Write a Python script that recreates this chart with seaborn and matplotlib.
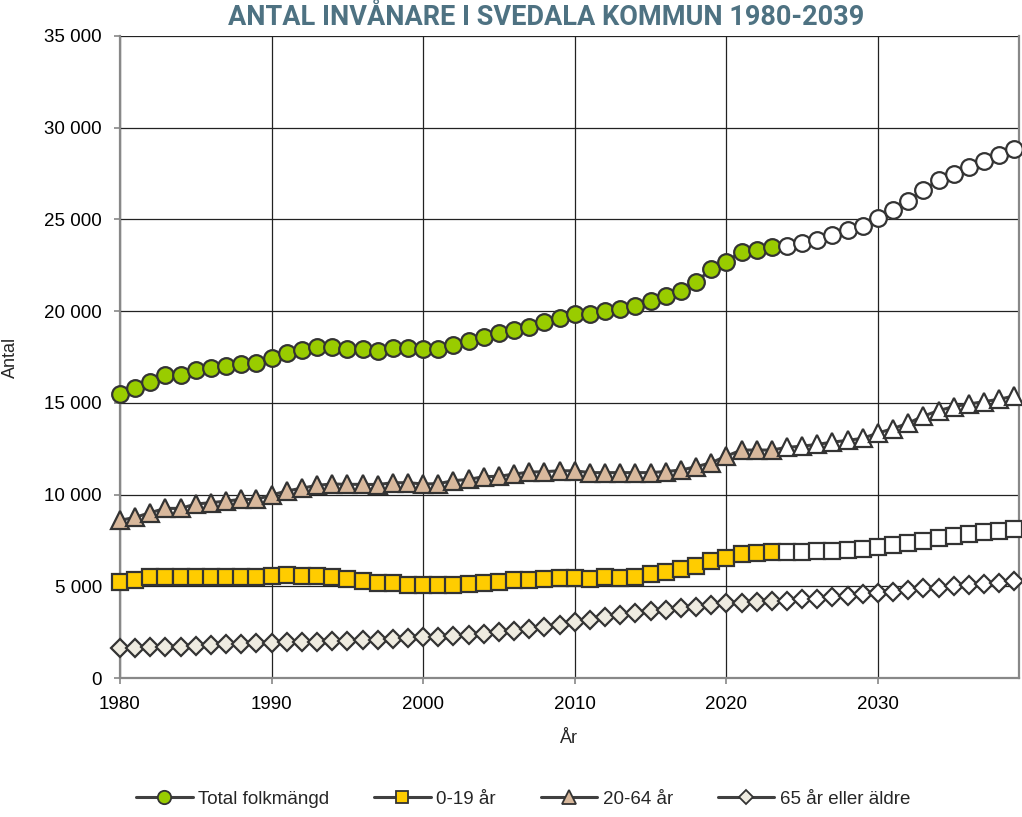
import numpy as np
import pandas as pd
import matplotlib
matplotlib.use('Agg')
import matplotlib.pyplot as plt
import seaborn as sns
from matplotlib.lines import Line2D
from matplotlib.ticker import FuncFormatter

# --- data ---
years = list(range(1980, 2040))
last_actual = 2023

total = [15500, 15800, 16150, 16500, 16500, 16800, 16900, 17030, 17120, 17160,
         17430, 17700, 17880, 18030, 18070, 17930, 17930, 17850, 17980, 17980,
         17930, 17950, 18160, 18350, 18600, 18800, 19000, 19150, 19400, 19620,
         19870, 19820, 20000, 20100, 20300, 20530, 20830, 21100, 21600, 22280,
         22700, 23250, 23340, 23500, 23550, 23700, 23880, 24150, 24400, 24650,
         25070, 25520, 26030, 26600, 27150, 27500, 27850, 28200, 28500, 28830]

age_0_19 = [5250, 5340, 5490, 5520, 5490, 5490, 5490, 5490, 5490, 5490,
            5560, 5620, 5560, 5560, 5490, 5380, 5300, 5200, 5200, 5090,
            5050, 5090, 5090, 5140, 5160, 5220, 5330, 5360, 5380, 5430,
            5460, 5380, 5520, 5460, 5490, 5650, 5800, 5940, 6120, 6400,
            6560, 6740, 6830, 6870, 6870, 6870, 6920, 6940, 6980, 7010,
            7120, 7250, 7340, 7490, 7630, 7740, 7850, 7960, 8030, 8140]

age_20_64 = [8600, 8760, 9020, 9250, 9250, 9490, 9560, 9650, 9740, 9740,
             9980, 10200, 10350, 10510, 10580, 10560, 10560, 10550, 10650, 10650,
             10580, 10600, 10760, 10830, 10980, 11000, 11120, 11230, 11250, 11300,
             11300, 11200, 11200, 11200, 11200, 11200, 11260, 11340, 11520, 11740,
             12100, 12430, 12430, 12430, 12580, 12640, 12740, 12860, 12960, 13070,
             13360, 13600, 13900, 14280, 14580, 14800, 14940, 15070, 15200, 15380]

age_65 = [1620, 1620, 1670, 1670, 1710, 1740, 1800, 1840, 1850, 1890,
          1930, 1950, 1980, 1980, 2000, 2000, 2070, 2070, 2110, 2200,
          2250, 2230, 2290, 2340, 2430, 2520, 2580, 2660, 2760, 2890,
          3070, 3160, 3340, 3430, 3560, 3670, 3710, 3800, 3890, 3980,
          4070, 4110, 4160, 4200, 4210, 4290, 4320, 4400, 4470, 4580,
          4650, 4710, 4800, 4890, 4920, 5020, 5070, 5130, 5200, 5300]

series_names = ['Total folkmängd', '0-19 år', '20-64 år', '65 år eller äldre']
series_values = [total, age_0_19, age_20_64, age_65]
markers = ['o', 's', '^', 'D']
marker_sizes = [12, 11, 12.5, 9]
fills = ['#99CC00', '#FFCC00', '#D8B89C', '#EEEBE0']

df = pd.DataFrame({'År': years})
for name, vals in zip(series_names, series_values):
    df[name] = vals
df_long = df.melt(id_vars='År', var_name='serie', value_name='Antal')

sns.set_style('white')
plt.rcParams['font.family'] = ['Liberation Sans', 'DejaVu Sans']

fig = plt.figure(figsize=(10.22, 8.17), dpi=100)
ax = fig.add_axes([0.1174, 0.170, 0.8796, 0.786])

line_col = '#404040'
edge_col = '#333333'

for name, m, ms, fc in zip(series_names, markers, marker_sizes, fills):
    d = df_long[df_long['serie'] == name]
    sns.lineplot(data=d, x='År', y='Antal', ax=ax, color=line_col,
                 linewidth=2.2, zorder=3, legend=False)
    hist = d[d['År'] <= last_actual]
    proj = d[d['År'] > last_actual]
    ax.plot(hist['År'], hist['Antal'], linestyle='none', marker=m, markersize=ms,
            markerfacecolor=fc, markeredgecolor=edge_col, markeredgewidth=1.6,
            zorder=4, clip_on=False)
    ax.plot(proj['År'], proj['Antal'], linestyle='none', marker=m, markersize=ms,
            markerfacecolor='white', markeredgecolor=edge_col, markeredgewidth=1.6,
            zorder=4, clip_on=False)

ax.set_xlim(1980, 2039.3)
ax.set_ylim(0, 35000)
ax.set_xticks(range(1980, 2040, 10))
ax.set_yticks(range(0, 35001, 5000))
ax.yaxis.set_major_formatter(FuncFormatter(lambda v, p: f'{int(v):,}'.replace(',', ' ')))
ax.grid(True, color='#222222', linewidth=0.9)
ax.set_axisbelow(True)
ax.tick_params(axis='both', labelsize=13.5, labelcolor='black', color='#888888',
               length=4, width=1.2, direction='out', left=True, bottom=True, pad=9)
for s in ['left', 'bottom', 'right']:
    ax.spines[s].set_color('#888888')
    ax.spines[s].set_linewidth(1.6)
ax.spines['top'].set_visible(False)

ax.set_xlabel('År', fontsize=13, labelpad=12)
ax.set_ylabel('Antal', fontsize=13, labelpad=18)

fig.text(0.534, 0.978, 'ANTAL INVÅNARE I SVEDALA KOMMUN 1980-2039',
         ha='center', va='center', fontsize=19.5, fontweight='bold',
         color='#4E7282', family=['Roboto', 'DejaVu Sans'])

handles = [Line2D([0], [0], color=line_col, linewidth=2.2, marker=m,
                  markersize=ms * 0.8, markerfacecolor=fc, markeredgecolor=edge_col,
                  markeredgewidth=1.3)
           for m, ms, fc in zip(markers, marker_sizes, fills)]
fig.legend(handles, series_names, loc='center', bbox_to_anchor=(0.512, 0.022),
           ncol=4, frameon=False, fontsize=13.5, handlelength=3.0,
           columnspacing=2.4, handletextpad=0.3)

plt.savefig('out.png', dpi=100)
